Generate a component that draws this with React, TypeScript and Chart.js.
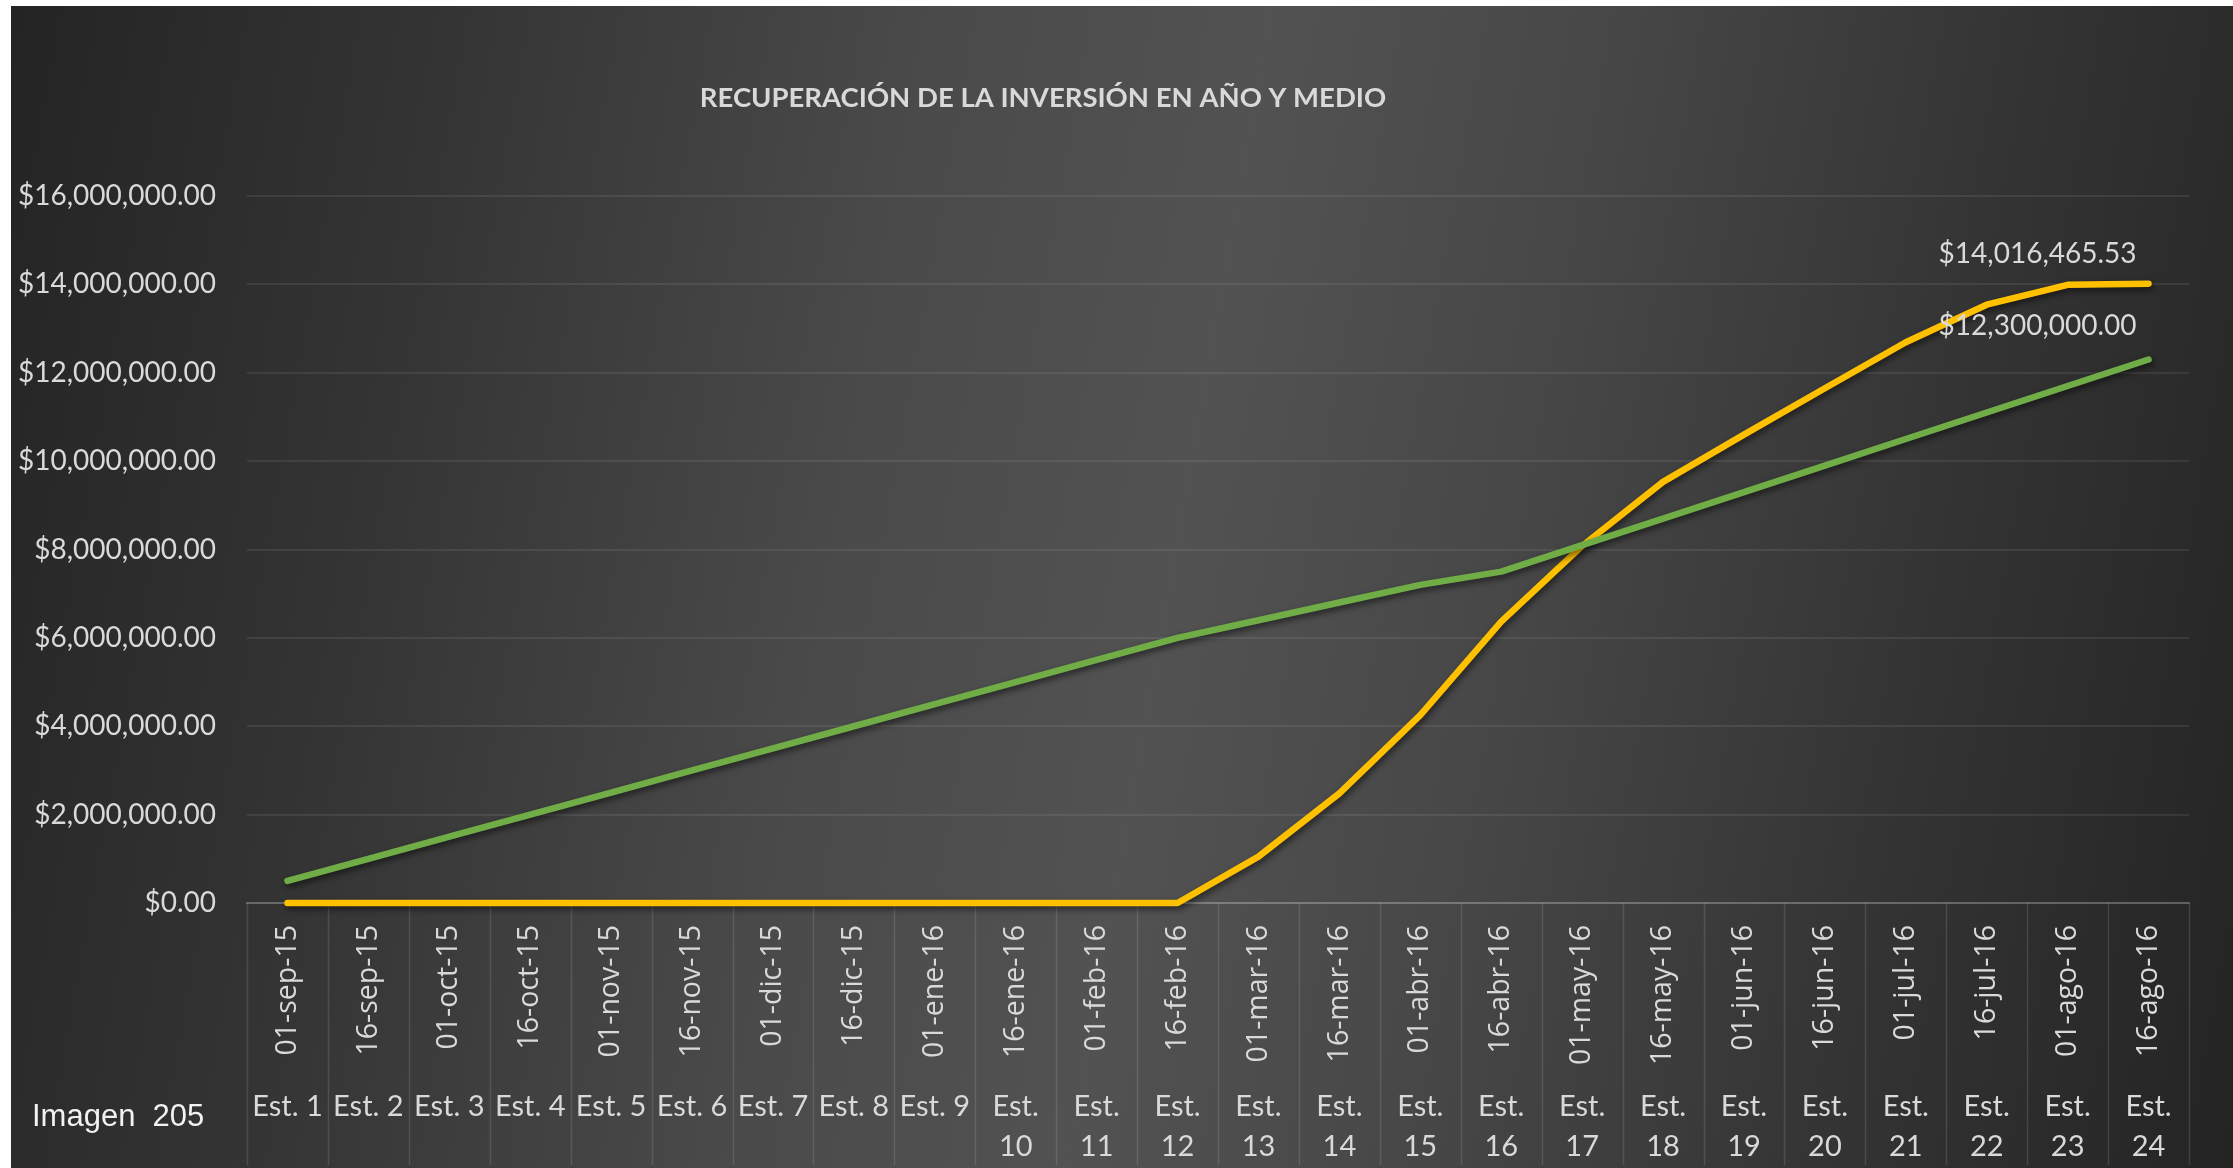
import React, { useEffect, useRef } from "react";
import { Chart, registerables } from "chart.js";

Chart.register(...registerables);

const TITLE = "RECUPERACIÓN DE LA INVERSIÓN EN AÑO Y MEDIO";
const CAPTION = "Imagen  205";

const dates = [
  "01-sep-15", "16-sep-15", "01-oct-15", "16-oct-15", "01-nov-15", "16-nov-15",
  "01-dic-15", "16-dic-15", "01-ene-16", "16-ene-16", "01-feb-16", "16-feb-16",
  "01-mar-16", "16-mar-16", "01-abr-16", "16-abr-16", "01-may-16", "16-may-16",
  "01-jun-16", "16-jun-16", "01-jul-16", "16-jul-16", "01-ago-16", "16-ago-16",
];

const stages: (string | string[])[] = [
  "Est. 1", "Est. 2", "Est. 3", "Est. 4", "Est. 5", "Est. 6", "Est. 7", "Est. 8", "Est. 9",
  ["Est.", "10"], ["Est.", "11"], ["Est.", "12"], ["Est.", "13"], ["Est.", "14"], ["Est.", "15"],
  ["Est.", "16"], ["Est.", "17"], ["Est.", "18"], ["Est.", "19"], ["Est.", "20"], ["Est.", "21"],
  ["Est.", "22"], ["Est.", "23"], ["Est.", "24"],
];

// green series
const inversion = [
  500000, 1000000, 1500000, 2000000, 2500000, 3000000, 3500000, 4000000,
  4500000, 5000000, 5500000, 6000000, 6400000, 6800000, 7200000, 7500000,
  8100000, 8700000, 9300000, 9900000, 10500000, 11100000, 11700000, 12300000,
];

// yellow series
const recuperacion = [
  0, 0, 0, 0, 0, 0, 0, 0, 0, 0, 0, 0,
  1050000, 2480000, 4250000, 6370000, 8080000, 9530000, 10600000, 11650000,
  12690000, 13540000, 13990000, 14016465.53,
];

const yTicks = [0, 2000000, 4000000, 6000000, 8000000, 10000000, 12000000, 14000000, 16000000];

const money = (v: number) =>
  "$" + v.toLocaleString("en-US", { minimumFractionDigits: 2, maximumFractionDigits: 2 });

const TEXT = "#d9d9d9";
const LABEL_FONT = "Lato";

export default function App() {
  const ref = useRef<HTMLCanvasElement | null>(null);

  useEffect(() => {
    if (!ref.current) return;

    const decor = {
      id: "decor",
      beforeDatasetsDraw(chart: any) {
        const { ctx, chartArea, scales } = chart;
        const xs = scales.x;
        const w = xs.getPixelForValue(1) - xs.getPixelForValue(0);
        const x0 = xs.getPixelForValue(0) - w / 2;
        ctx.save();
        ctx.strokeStyle = "rgba(255,255,255,0.12)";
        ctx.lineWidth = 1.5;
        for (let i = 0; i <= dates.length; i++) {
          const x = Math.round(x0 + i * w) + 0.5;
          ctx.beginPath();
          ctx.moveTo(x, chartArea.bottom);
          ctx.lineTo(x, chart.height - 3);
          ctx.stroke();
        }
        // title
        ctx.fillStyle = TEXT;
        ctx.font = "bold 27.5px " + LABEL_FONT;
        ctx.textAlign = "center";
        ctx.textBaseline = "alphabetic";
        ctx.fillText(TITLE, 1032, 101);
        // caption
        ctx.fillStyle = "#f2f2f2";
        ctx.font = "31px 'Liberation Sans'";
        ctx.textAlign = "left";
        ctx.fillText(CAPTION, 21, 1120);
        ctx.restore();
      },
      beforeDatasetDraw(chart: any) {
        const ctx = chart.ctx;
        ctx.save();
        ctx.shadowColor = "rgba(0,0,0,0.55)";
        ctx.shadowBlur = 6;
        ctx.shadowOffsetX = 2;
        ctx.shadowOffsetY = 3;
      },
      afterDatasetDraw(chart: any) {
        chart.ctx.restore();
      },
      afterDatasetsDraw(chart: any) {
        const { ctx } = chart;
        ctx.save();
        ctx.fillStyle = TEXT;
        ctx.font = "28px " + LABEL_FONT;
        ctx.textAlign = "right";
        ctx.textBaseline = "middle";
        const offs = [34, 30];
        chart.data.datasets.forEach((ds: any, di: number) => {
          const meta = chart.getDatasetMeta(di);
          const last = meta.data[meta.data.length - 1];
          const v = ds.data[ds.data.length - 1];
          ctx.fillText(money(v), last.x - 12, last.y - offs[di]);
        });
        ctx.restore();
      },
    };

    const chart = new Chart(ref.current, {
      type: "line",
      data: {
        labels: dates,
        datasets: [
          {
            label: "Inversión",
            data: inversion,
            borderColor: "#70AD47",
            backgroundColor: "#70AD47",
            borderWidth: 6.5,
            pointRadius: 0,
            tension: 0,
            borderCapStyle: "round",
            borderJoinStyle: "round",
            clip: false,
          },
          {
            label: "Recuperación",
            data: recuperacion,
            borderColor: "#FFC000",
            backgroundColor: "#FFC000",
            borderWidth: 6.5,
            pointRadius: 0,
            tension: 0,
            borderCapStyle: "round",
            borderJoinStyle: "round",
            clip: false,
          },
        ],
      },
      options: {
        animation: false,
        responsive: false,
        devicePixelRatio: 1,
        layout: { padding: { top: 190, right: 44, left: 0, bottom: 0 } },
        plugins: {
          legend: { display: false },
          title: { display: false },
          tooltip: { enabled: false },
        },
        scales: {
          y: {
            min: 0,
            max: 16000000,
            afterBuildTicks: (s: any) => {
              s.ticks = yTicks.map((v) => ({ value: v }));
            },
            afterFit: (s: any) => {
              s.width = 236;
            },
            ticks: {
              color: TEXT,
              font: { family: LABEL_FONT, size: 28 },
              padding: 31,
              callback: (v: any) => money(Number(v)),
            },
            grid: {
              color: "rgba(255,255,255,0.08)",
              lineWidth: 2,
              drawTicks: false,
            },
            border: { display: false },
          },
          x: {
            type: "category",
            offset: true,
            afterFit: (s: any) => {
              s.height = 184.5;
            },
            ticks: {
              color: TEXT,
              font: { family: "'Open Sans'", size: 28.5 },
              minRotation: 90,
              maxRotation: 90,
              autoSkip: false,
              padding: 22,
            },
            grid: { display: false, drawTicks: false },
            border: { display: true, color: "rgba(255,255,255,0.2)", width: 2 },
          },
          x2: {
            type: "category",
            position: "bottom",
            labels: stages as any,
            offset: true,
            afterFit: (s: any) => {
              s.height = 80.5;
            },
            ticks: {
              color: TEXT,
              font: { family: LABEL_FONT, size: 29, lineHeight: 1.35 },
              minRotation: 0,
              maxRotation: 0,
              autoSkip: false,
              padding: 0,
            },
            grid: { display: false, drawTicks: false },
            border: { display: false },
          },
        },
      },
      plugins: [decor],
    } as any);

    return () => chart.destroy();
  }, []);

  return (
    <div
      style={{
        position: "fixed",
        left: 11,
        top: 6,
        width: 2222,
        height: 1162,
        background:
          "linear-gradient(100deg, #242424 0%, #343434 18%, #4a4a4a 38%, #525252 52%, #474747 66%, #333333 84%, #242424 100%)",
      }}
    >
      <canvas ref={ref} width={2222} height={1162} style={{ display: "block", width: 2222, height: 1162 }} />
    </div>
  );
}
